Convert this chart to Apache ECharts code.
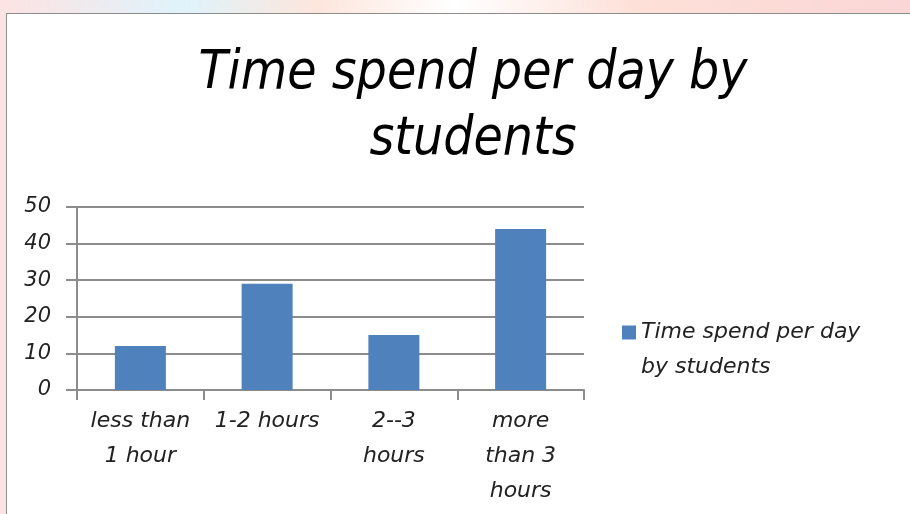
<!DOCTYPE html>
<html>
<head>
<meta charset="utf-8">
<script src="https://cdn.jsdelivr.net/npm/echarts@6/dist/echarts.min.js"></script>
<style>
  html, body { margin: 0; padding: 0; }
  body {
    width: 910px; height: 514px; overflow: hidden; position: relative;
    background: linear-gradient(90deg, #fde3e3 0%, #dff3fb 20%, #fde6dc 35%, #fff 50%, #fde0d8 70%, #fbd6d6 100%);
  }
  #chart {
    position: absolute; left: 6px; top: 13px; width: 903px; height: 500px;
    background: #fff; border: 1px solid #8c8c8c;
  }
</style>
</head>
<body>
<div id="chart"></div>
<script>
// data
const titleText = 'Time spend per day by\nstudents';
const seriesName = 'Time spend per day by students';
const categories = ['less than\n1 hour', '1-2 hours', '2--3\nhours', 'more\nthan 3\nhours'];
const values = [12, 29, 15, 44];

const titleFont = '"DejaVu Sans Condensed", "Open Sans", sans-serif';
const fontFam = '"DejaVu Sans", sans-serif';
const chart = echarts.init(document.getElementById('chart'));

const option = {
  animation: false,
  title: {
    text: titleText,
    left: 461, top: 22,
    textAlign: 'center',
    textStyle: {
      fontFamily: titleFont, fontStyle: 'italic', fontWeight: 'normal',
      fontSize: 53, lineHeight: 66, color: '#000'
    }
  },
  legend: {
    orient: 'vertical',
    left: 610, top: 261,
    itemWidth: 14, itemHeight: 14,
    icon: 'rect',
    // empty first line keeps the marker level with the first text line
    formatter: () => '\nTime spend per day\nby students',
    textStyle: {
      fontFamily: fontFam, fontStyle: 'italic', fontSize: 22,
      lineHeight: 35, color: '#222'
    }
  },
  grid: { left: 70, right: 326, top: 193, bottom: 124 },
  xAxis: {
    type: 'category',
    data: categories,
    axisLine: { lineStyle: { color: '#8c8c8c', width: 2 } },
    axisTick: { show: true, length: 10, lineStyle: { color: '#8c8c8c', width: 2 } },
    axisLabel: {
      interval: 0, margin: 14,
      fontFamily: fontFam, fontStyle: 'italic', fontSize: 22,
      lineHeight: 35, color: '#222'
    }
  },
  yAxis: {
    type: 'value',
    min: 0, max: 50, interval: 10,
    axisLine: { show: true, lineStyle: { color: '#8c8c8c', width: 2 } },
    axisTick: { show: true, length: 11, lineStyle: { color: '#8c8c8c', width: 2 } },
    splitLine: { lineStyle: { color: '#8c8c8c', width: 2 } },
    axisLabel: {
      margin: 26,
      fontFamily: fontFam, fontStyle: 'italic', fontSize: 21, color: '#222'
    }
  },
  series: [{
    name: seriesName,
    type: 'bar',
    data: values,
    barWidth: 51,
    itemStyle: { color: '#4f81bd' }
  }]
};
chart.setOption(option);
</script>
</body>
</html>
